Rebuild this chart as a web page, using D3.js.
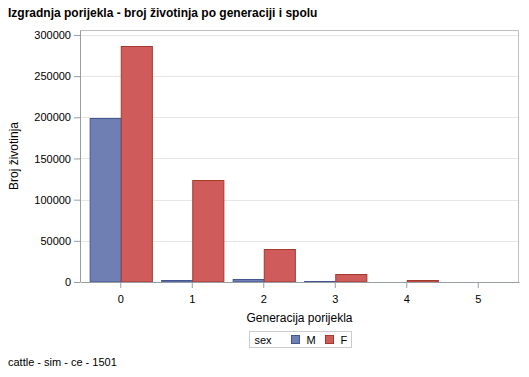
<!DOCTYPE html>
<html>
<head>
<meta charset="utf-8">
<script src="https://cdn.jsdelivr.net/npm/d3@7"></script>
<style>
  body { margin: 0; background: #fff; }
  text { font-family: "Liberation Sans", Arial, sans-serif; }
</style>
</head>
<body>
<div id="chart"></div>
<script>
// Izgradnja porijekla - broj životinja po generaciji i spolu
const generations = ['0', '1', '2', '3', '4', '5'];
const sexes = ['M', 'F'];
const countM = [199000, 2500, 3600, 1200, 0, 0];
const countF = [287000, 124000, 40000, 10000, 2500, 0];
const yTicks = [0, 50000, 100000, 150000, 200000, 250000, 300000];

const colors = { M: { fill: '#6F7EB3', stroke: '#445694' }, F: { fill: '#D05B5B', stroke: '#A23A2E' } };

const width = 529, height = 377;
const margin = { top: 30, right: 10, bottom: 95, left: 80 };
const W = width - margin.left - margin.right;
const H = height - margin.top - margin.bottom;

const rows = generations.map((g, i) => ({ gen: g, M: countM[i], F: countF[i] }));

const svg = d3.select('#chart').append('svg')
  .attr('width', width).attr('height', height);

svg.append('text').attr('x', 8).attr('y', 17)
  .attr('font-size', '12px').attr('font-weight', 'bold').attr('fill', '#000')
  .text('Izgradnja porijekla - broj životinja po generaciji i spolu');

const g = svg.append('g').attr('transform', `translate(${margin.left},${margin.top})`);

const x = d3.scaleBand().domain(generations).range([0, W]).paddingInner(0).paddingOuter(0.07);
const xs = d3.scaleBand().domain(sexes).range([x.bandwidth() * 0.065, x.bandwidth() * 0.935]);
const y = d3.scaleLinear().domain([0, 306000]).range([H, 0]);

// gridlines
g.selectAll('.grid').data(yTicks.filter(d => d > 0)).join('line')
  .attr('x1', 0).attr('x2', W)
  .attr('y1', d => Math.round(y(d)) + 0.5).attr('y2', d => Math.round(y(d)) + 0.5)
  .attr('stroke', '#E6E6E6');

// frame top/right
g.append('path')
  .attr('d', `M0.5,0.5H${W - 0.5}V${H}`)
  .attr('fill', 'none').attr('stroke', '#BDC1C6');

// bars
const grp = g.selectAll('.gen').data(rows).join('g')
  .attr('transform', d => `translate(${x(d.gen)},0)`);
grp.selectAll('rect').data(d => sexes.map(s => ({ s, v: d[s] })).filter(e => e.v > 0)).join('rect')
  .attr('x', d => xs(d.s) + 0.5).attr('y', d => Math.round(y(d.v)) + 0.5)
  .attr('width', xs.bandwidth())
  .attr('height', d => Math.max(0, H - Math.round(y(d.v)) - 0.5))
  .attr('fill', d => colors[d.s].fill).attr('stroke', d => colors[d.s].stroke);

// axes
const yAxis = g.append('g')
  .call(d3.axisLeft(y).tickValues(yTicks).tickSize(6).tickSizeOuter(0).tickFormat(d3.format('d')));
const xAxis = g.append('g').attr('transform', `translate(0,${H})`)
  .call(d3.axisBottom(x).tickSize(6).tickSizeOuter(0));
[yAxis, xAxis].forEach(ax => {
  ax.select('.domain').attr('stroke', '#979DA5');
  ax.selectAll('.tick line').attr('stroke', '#979DA5');
  ax.selectAll('text').attr('font-family', '"Liberation Sans", Arial, sans-serif')
    .attr('font-size', '11px').attr('fill', '#000');
});
yAxis.select('.domain').attr('d', `M0.5,${H}V0.5`);
xAxis.selectAll('text').attr('dy', '1.05em');

g.append('text').attr('transform', `translate(${-62},${H / 2}) rotate(-90)`)
  .attr('text-anchor', 'middle').attr('font-size', '12px').attr('fill', '#000')
  .text('Broj životinja');

g.append('text').attr('x', W / 2).attr('y', H + 40)
  .attr('text-anchor', 'middle').attr('font-size', '12px').attr('fill', '#000')
  .text('Generacija porijekla');

// legend
const lg = svg.append('g').attr('transform', 'translate(249.5,331.5)');
lg.append('rect').attr('width', 102).attr('height', 16)
  .attr('fill', '#fff').attr('stroke', '#CCCCCC');
lg.append('text').attr('x', 5).attr('y', 12).attr('font-size', '11px').text('sex');
const li = lg.selectAll('.li').data(sexes).join('g')
  .attr('transform', (d, i) => `translate(${42 + i * 34},4)`);
li.append('rect').attr('width', 8).attr('height', 8)
  .attr('fill', d => colors[d].fill).attr('stroke', d => colors[d].stroke);
li.append('text').attr('x', 15).attr('y', 8).attr('font-size', '11px').text(d => d);

svg.append('text').attr('x', 8).attr('y', 366).attr('font-size', '11px').attr('fill', '#000')
  .text('cattle - sim - ce - 1501');
</script>
</body>
</html>
